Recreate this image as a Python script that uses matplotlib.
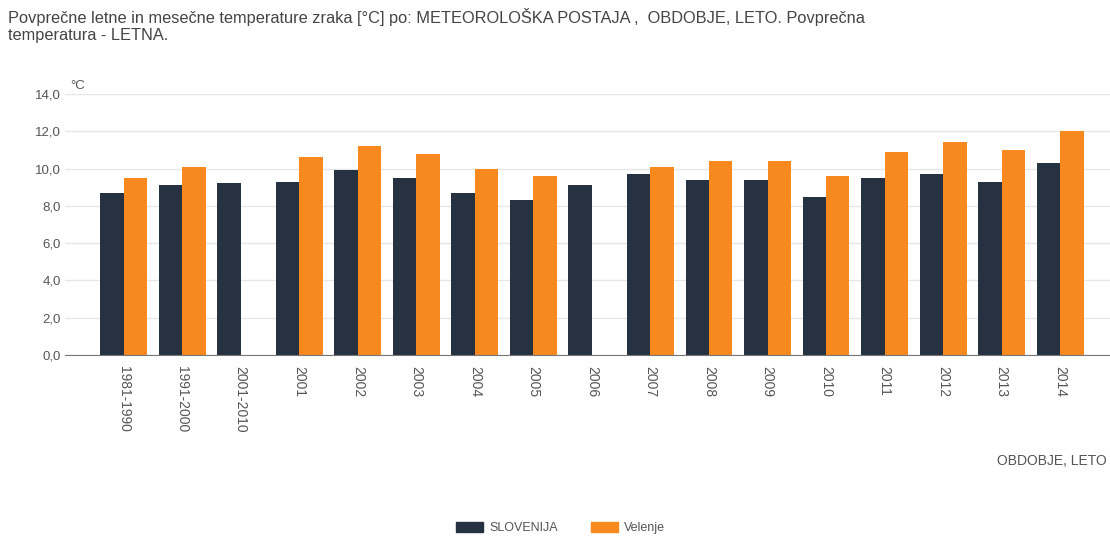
import numpy as np
import matplotlib.pyplot as plt
from matplotlib.patches import Patch

plt.rcParams['font.family'] = ['Liberation Sans', 'DejaVu Sans']

# Data
categories = ['1981-1990', '1991-2000', '2001-2010', '2001', '2002', '2003', '2004',
              '2005', '2006', '2007', '2008', '2009', '2010', '2011', '2012', '2013', '2014']
slovenija = [8.7, 9.1, 9.2, 9.3, 9.9, 9.5, 8.7, 8.3, 9.1, 9.7, 9.4, 9.4, 8.5, 9.5, 9.7, 9.3, 10.3]
velenje = [9.5, 10.1, np.nan, 10.6, 11.2, 10.8, 10.0, 9.6, np.nan, 10.1, 10.4, 10.4, 9.6,
           10.9, 11.4, 11.0, 12.0]
yticks = [0, 2, 4, 6, 8, 10, 12, 14]

dark = '#263142'
orange = '#f8891f'
text_col = '#555555'

fig = plt.figure(figsize=(11.1, 5.37), dpi=100)
ax = fig.add_axes([0.0586, 0.339, 0.9414, 0.486])

x = np.arange(len(categories))
w = 0.4
ax.bar(x - w / 2, slovenija, width=w, color=dark, label='SLOVENIJA', zorder=3)
ax.bar(x + w / 2, velenje, width=w, color=orange, label='Velenje', zorder=3)

ax.set_xlim(-1.0, 16.85)
ax.set_ylim(0, 14)
ax.set_yticks(yticks)
ax.set_yticklabels([f'{v:.1f}'.replace('.', ',') for v in yticks], color=text_col, fontsize=9.5)
ax.set_xticks(x)
ax.set_xticklabels(categories, rotation=270, color=text_col, fontsize=10)
ax.tick_params(axis='x', length=0, pad=8)
ax.tick_params(axis='y', length=0, pad=3)
ax.grid(axis='y', color='#e6e6e6', linewidth=1, zorder=0)
for s in ['top', 'right', 'left']:
    ax.spines[s].set_visible(False)
ax.spines['bottom'].set_color('#777777')
ax.spines['bottom'].set_zorder(4)

fig.text(0.063, 0.835, '°C', color=text_col, fontsize=9.5)
fig.text(0.0075, 0.985,
         'Povprečne letne in mesečne temperature zraka [°C] po: METEOROLOŠKA POSTAJA ,  OBDOBJE, LETO. Povprečna\n'
         'temperatura - LETNA.', color='#444444', fontsize=11.8, va='top', linespacing=1.2)
fig.text(0.898, 0.142, 'OBDOBJE, LETO', color=text_col, fontsize=10, va='center')

handles = [Patch(color=dark, label='SLOVENIJA'), Patch(color=orange, label='Velenje')]
fig.legend(handles=handles, loc='center', bbox_to_anchor=(0.505, 0.016), ncol=2,
           frameon=False, fontsize=9, labelcolor=text_col, handlelength=2.2,
           handleheight=0.8, columnspacing=2.6, handletextpad=0.5)

fig.savefig('out.png', dpi=100)
